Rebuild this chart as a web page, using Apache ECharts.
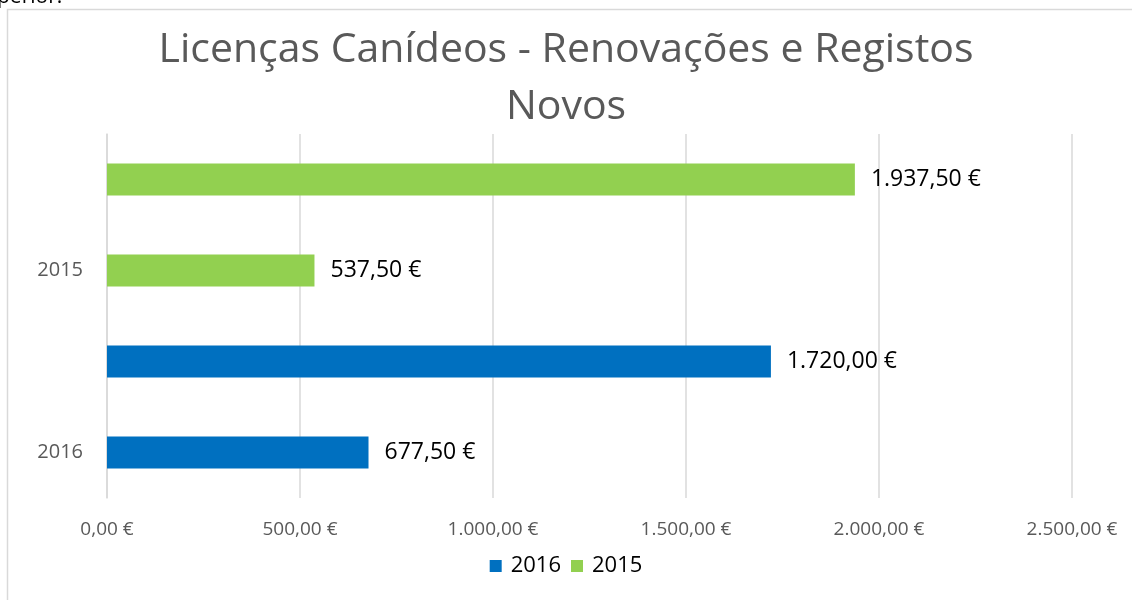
<!DOCTYPE html>
<html><head><meta charset="utf-8">
<script src="https://cdn.jsdelivr.net/npm/echarts@6/dist/echarts.min.js"></script>
<style>html,body{margin:0;padding:0;background:#fff}#c{width:1132px;height:600px}</style>
</head><body><div id="c"></div>
<script>
var categories = ['2016', '', '2015', ''];
var series2016 = [677.5, 1720, null, null];
var series2015 = [null, null, 537.5, 1937.5];
var xTicks = [0, 500, 1000, 1500, 2000, 2500];

function fmt(v) {
  var s = Number(v).toFixed(2).split('.');
  var i = s[0].replace(/\B(?=(\d{3})+(?!\d))/g, '.');
  return i + ',' + s[1] + ' \u20ac';
}
var chart = echarts.init(document.getElementById('c'));
var ff = 'Open Sans, Liberation Sans, sans-serif';
chart.setOption({
  animation: false,
  title: {
    text: 'Licenças Canídeos - Renovações e Registos\nNovos',
    left: 'center', top: 17,
    textStyle: { fontFamily: ff, fontSize: 41, fontWeight: 'normal', color: '#595959', lineHeight: 57 }
  },
  graphic: [
    { type: 'rect', shape: { x: 7.5, y: 9.5, width: 1140, height: 600 }, style: { fill: null, stroke: '#d9d9d9', lineWidth: 1.5 } },
    { type: 'text', left: -3, top: -13, style: { text: 'perior.', font: '21px ' + ff, fill: '#000' } }
  ],
  legend: {
    bottom: 18, left: 'center', itemWidth: 12, itemHeight: 12, itemGap: 10,
    icon: 'rect',
    textStyle: { fontFamily: ff, fontSize: 22, color: '#000', padding: [0, 0, 0, 4] },
    data: ['2016', '2015']
  },
  grid: { left: 107, right: 60, top: 134, height: 364, containLabel: false },
  xAxis: {
    type: 'value', min: 0, max: 2500, interval: 500,
    axisLine: { show: false }, axisTick: { show: false },
    splitLine: { lineStyle: { color: '#d9d9d9', width: 1.5 } },
    axisLabel: { formatter: fmt, fontFamily: ff, fontSize: 19, color: '#595959', margin: 22 }
  },
  yAxis: {
    type: 'category', data: categories,
    axisLine: { show: true, lineStyle: { color: '#d9d9d9', width: 1.5 } },
    axisTick: { show: false },
    axisLabel: { fontFamily: ff, fontSize: 20, color: '#595959', margin: 24 }
  },
  series: [
    { name: '2016', type: 'bar', data: series2016, barWidth: 32, barGap: '-100%',
      itemStyle: { color: '#0070C0' },
      label: { show: true, position: 'right', distance: 16, formatter: function(p){return fmt(p.value);}, fontFamily: ff, fontSize: 23, color: '#000' } },
    { name: '2015', type: 'bar', data: series2015, barWidth: 32, barGap: '-100%',
      itemStyle: { color: '#92D050' },
      label: { show: true, position: 'right', distance: 16, formatter: function(p){return fmt(p.value);}, fontFamily: ff, fontSize: 23, color: '#000' } }
  ]
});
</script></body></html>
